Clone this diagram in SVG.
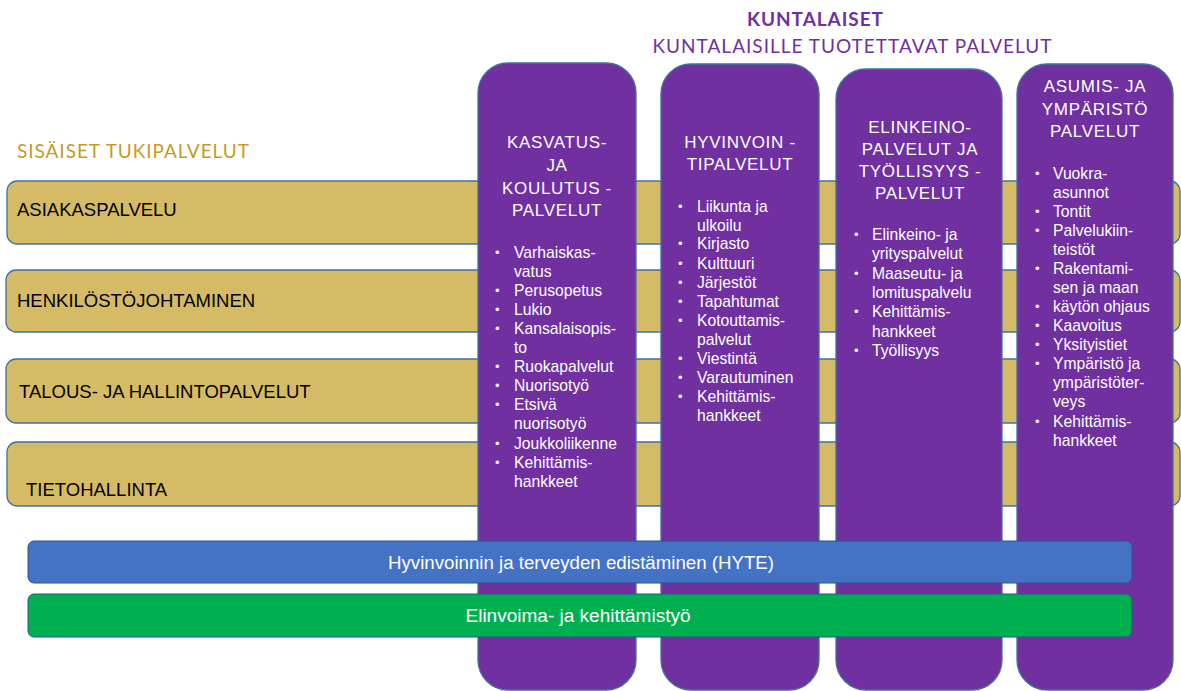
<svg xmlns="http://www.w3.org/2000/svg" width="1181" height="691" viewBox="0 0 1181 691">
<style>
.gold{fill:#D6BB66;stroke:#41719C;stroke-width:1.3}
.col{fill:#7030A0;stroke:#41719C;stroke-width:1.3}
.glbl{font-family:"Liberation Sans",Arial,sans-serif;font-size:18.5px;fill:#000}
.ttl{font-family:"Liberation Sans",Arial,sans-serif;font-size:17px;fill:#fff;text-anchor:middle;letter-spacing:0.7px}
.itm{font-family:"Liberation Sans",Arial,sans-serif;font-size:15.7px;fill:#fff}
.bul{font-family:"Liberation Sans",Arial,sans-serif;font-size:13px;fill:#fff}
.bar{font-family:"Liberation Sans",Arial,sans-serif;font-size:18px;fill:#fff;text-anchor:middle}
</style>
<rect width="1181" height="691" fill="#fff"/>

<g id="header">
<text x="815" y="26" text-anchor="middle" font-family="Lato,'Open Sans',sans-serif" font-weight="bold" font-size="19" fill="#7030A0" textLength="136">KUNTALAISET</text>
<text x="852" y="53" text-anchor="middle" font-family="Lato,'Open Sans',sans-serif" font-size="19" fill="#7030A0" textLength="399">KUNTALAISILLE TUOTETTAVAT PALVELUT</text>
<text x="17" y="158" font-family="Lato,'Open Sans',sans-serif" font-size="19" fill="#C59A2A" textLength="232">SISÄISET TUKIPALVELUT</text>
</g>

<g id="asiakaspalvelu"><rect class="gold" x="7" y="181" width="1173" height="63" rx="10"/><text class="glbl" x="17" y="216">ASIAKASPALVELU</text></g>
<g id="henkilostojohtaminen"><rect class="gold" x="6" y="270" width="1174" height="62" rx="10"/><text class="glbl" x="17" y="307">HENKILÖSTÖJOHTAMINEN</text></g>
<g id="talous"><rect class="gold" x="6" y="359" width="1174" height="64" rx="10"/><text class="glbl" x="19" y="398">TALOUS- JA HALLINTOPALVELUT</text></g>
<g id="tietohallinta"><rect class="gold" x="7" y="442" width="1173" height="64" rx="10"/><text class="glbl" x="26" y="496">TIETOHALLINTA</text></g>

<g id="kasvatus">
<rect class="col" x="478" y="63" width="158" height="627" rx="30"/>
<text class="ttl" x="557"><tspan x="557" y="148">KASVATUS-</tspan><tspan x="557" y="171">JA</tspan><tspan x="557" y="194">KOULUTUS -</tspan><tspan x="557" y="216">PALVELUT</tspan></text>
<g class="bul"><text x="495" y="257">•</text><text x="495" y="295">•</text><text x="495" y="314">•</text><text x="495" y="333">•</text><text x="495" y="371">•</text><text x="495" y="390">•</text><text x="495" y="409">•</text><text x="495" y="448">•</text><text x="495" y="467">•</text></g>
<text class="itm"><tspan x="514" y="258">Varhaiskas-</tspan><tspan x="514" y="277">vatus</tspan><tspan x="514" y="296">Perusopetus</tspan><tspan x="514" y="315">Lukio</tspan><tspan x="514" y="334">Kansalaisopis-</tspan><tspan x="514" y="353">to</tspan><tspan x="514" y="372">Ruokapalvelut</tspan><tspan x="514" y="391">Nuorisotyö</tspan><tspan x="514" y="410">Etsivä</tspan><tspan x="514" y="429">nuorisotyö</tspan><tspan x="514" y="449">Joukkoliikenne</tspan><tspan x="514" y="468">Kehittämis-</tspan><tspan x="514" y="487">hankkeet</tspan></text>
</g>

<g id="hyvinvointi">
<rect class="col" x="661" y="64" width="158" height="626" rx="30"/>
<text class="ttl"><tspan x="740" y="148">HYVINVOIN -</tspan><tspan x="740" y="170">TIPALVELUT</tspan></text>
<g class="bul"><text x="678" y="211">•</text><text x="678" y="248">•</text><text x="678" y="268">•</text><text x="678" y="287">•</text><text x="678" y="306">•</text><text x="678" y="325">•</text><text x="678" y="363">•</text><text x="678" y="382">•</text><text x="678" y="401">•</text></g>
<text class="itm"><tspan x="697" y="212">Liikunta ja</tspan><tspan x="697" y="231">ulkoilu</tspan><tspan x="697" y="249">Kirjasto</tspan><tspan x="697" y="269">Kulttuuri</tspan><tspan x="697" y="288">Järjestöt</tspan><tspan x="697" y="307">Tapahtumat</tspan><tspan x="697" y="326">Kotouttamis-</tspan><tspan x="697" y="345">palvelut</tspan><tspan x="697" y="364">Viestintä</tspan><tspan x="697" y="383">Varautuminen</tspan><tspan x="697" y="402">Kehittämis-</tspan><tspan x="697" y="421">hankkeet</tspan></text>
</g>

<g id="elinkeino">
<rect class="col" x="836" y="69" width="166" height="621" rx="30"/>
<text class="ttl"><tspan x="920" y="133">ELINKEINO-</tspan><tspan x="920" y="155">PALVELUT JA</tspan><tspan x="920" y="177">TYÖLLISYYS -</tspan><tspan x="920" y="199">PALVELUT</tspan></text>
<g class="bul"><text x="854" y="239">•</text><text x="854" y="278">•</text><text x="854" y="316">•</text><text x="854" y="355">•</text></g>
<text class="itm"><tspan x="872" y="240">Elinkeino- ja</tspan><tspan x="872" y="259">yrityspalvelut</tspan><tspan x="872" y="279">Maaseutu- ja</tspan><tspan x="872" y="298">lomituspalvelu</tspan><tspan x="872" y="317">Kehittämis-</tspan><tspan x="872" y="337">hankkeet</tspan><tspan x="872" y="356">Työllisyys</tspan></text>
</g>

<g id="asuminen">
<rect class="col" x="1017" y="64" width="156" height="626" rx="30"/>
<text class="ttl"><tspan x="1095" y="92">ASUMIS- JA</tspan><tspan x="1095" y="115">YMPÄRISTÖ</tspan><tspan x="1095" y="137">PALVELUT</tspan></text>
<g class="bul"><text x="1035" y="178">•</text><text x="1035" y="216">•</text><text x="1035" y="235">•</text><text x="1035" y="273">•</text><text x="1035" y="311">•</text><text x="1035" y="330">•</text><text x="1035" y="349">•</text><text x="1035" y="368">•</text><text x="1035" y="426">•</text></g>
<text class="itm"><tspan x="1053" y="179">Vuokra-</tspan><tspan x="1053" y="198">asunnot</tspan><tspan x="1053" y="217">Tontit</tspan><tspan x="1053" y="236">Palvelukiin-</tspan><tspan x="1053" y="255">teistöt</tspan><tspan x="1053" y="274">Rakentami-</tspan><tspan x="1053" y="293">sen ja maan</tspan><tspan x="1053" y="312">käytön ohjaus</tspan><tspan x="1053" y="331">Kaavoitus</tspan><tspan x="1053" y="350">Yksityistiet</tspan><tspan x="1053" y="369">Ympäristö ja</tspan><tspan x="1053" y="388">ympäristöter-</tspan><tspan x="1053" y="407">veys</tspan><tspan x="1053" y="427">Kehittämis-</tspan><tspan x="1053" y="446">hankkeet</tspan></text>
</g>

<g id="hyte"><rect x="28" y="541" width="1104" height="42" rx="6" fill="#4472C4" stroke="#2F528F" stroke-width="1"/><text class="bar" x="581" y="569" textLength="386" lengthAdjust="spacingAndGlyphs">Hyvinvoinnin ja terveyden edistäminen (HYTE)</text></g>
<g id="elinvoima"><rect x="28" y="594" width="1104" height="43" rx="6" fill="#00B050" stroke="#2F528F" stroke-width="1"/><text class="bar" x="578" y="622" textLength="225" lengthAdjust="spacingAndGlyphs">Elinvoima- ja kehittämistyö</text></g>

<g id="connectors"/>
</svg>
